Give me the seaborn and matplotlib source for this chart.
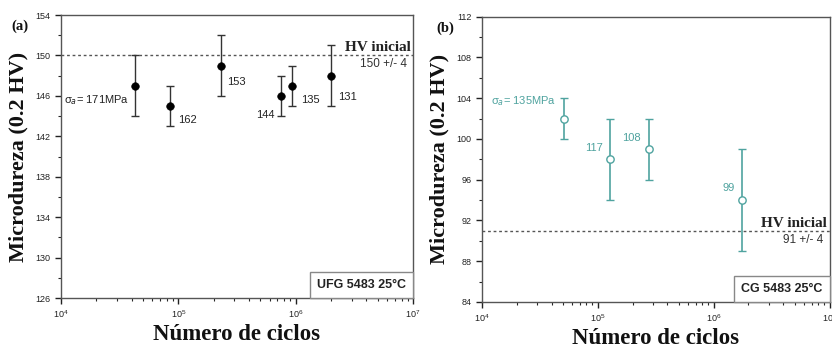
import numpy as np
import pandas as pd
import seaborn as sns
import matplotlib.pyplot as plt
from matplotlib.ticker import LogLocator, MultipleLocator, NullFormatter
from matplotlib.offsetbox import AnchoredText

# panel (a) UFG 5483
ufg_ciclos = [4.3e4, 8.5e4, 2.33e5, 7.45e5, 9.4e5, 1.99e6]
ufg_hv = [147, 145, 149, 146, 147, 148]
ufg_err = [3, 2, 3, 2, 2, 3]
ufg_labels = ['σ$_a$= 171MPa', '162', '153', '144', '135', '131']
ufg_hv0 = 150

# panel (b) CG 5483
cg_ciclos = [5.1e4, 1.29e5, 2.78e5, 1.77e6]
cg_hv = [102, 98, 99, 94]
cg_err = [2, 4, 3, 5]
cg_labels = ['σ$_a$= 135MPa', '117', '108', '99']
cg_hv0 = 91

sns.set_theme(style='white')
plt.rcParams['font.family'] = ['Liberation Sans', 'DejaVu Sans']

teal = '#4fa39f'
serif = ['Liberation Serif', 'DejaVu Serif']

fig = plt.figure(figsize=(8.32, 3.49), dpi=100)
ax1 = fig.add_axes([0.0733, 0.146, 0.423, 0.811])
ax2 = fig.add_axes([0.579, 0.135, 0.418, 0.817])

df1 = pd.DataFrame({'ciclos': ufg_ciclos, 'hv': ufg_hv, 'err': ufg_err})
df2 = pd.DataFrame({'ciclos': cg_ciclos, 'hv': cg_hv, 'err': cg_err})

ax1.errorbar(df1['ciclos'], df1['hv'], yerr=df1['err'], fmt='none',
             ecolor='#333333', elinewidth=1, capsize=3, capthick=1, zorder=2)
sns.scatterplot(data=df1, x='ciclos', y='hv', ax=ax1, color='black',
                s=30, edgecolor='black', zorder=3, legend=False)

ax2.errorbar(df2['ciclos'], df2['hv'], yerr=df2['err'], fmt='none',
             ecolor=teal, elinewidth=1.2, capsize=3, capthick=1, zorder=2)
sns.scatterplot(data=df2, x='ciclos', y='hv', ax=ax2, color='white',
                s=28, edgecolor=teal, linewidth=1, zorder=3, legend=False)

# label offsets in pixels
off1 = [(-6, -14, 'right'), (8, -14, 'left'), (6, -16, 'left'),
        (-6, -19, 'right'), (9, -14, 'left'), (7, -21, 'left')]
for x, y, lab, (dx, dy, ha) in zip(ufg_ciclos, ufg_hv, ufg_labels, off1):
    ax1.annotate(lab, (x, y), xytext=(dx, dy), textcoords='offset pixels',
                 ha=ha, va='center', fontsize=8, color='#222222')

off2 = [(-8, 17, 'right'), (-8, 11, 'right'), (-8, 11, 'right'), (-8, 12, 'right')]
for x, y, lab, (dx, dy, ha) in zip(cg_ciclos, cg_hv, cg_labels, off2):
    ax2.annotate(lab, (x, y), xytext=(dx, dy), textcoords='offset pixels',
                 ha=ha, va='center', fontsize=8, color=teal)

for ax, hv0, ylim, box, tag, tagx in [(ax1, ufg_hv0, (126, 154), 'UFG 5483 25°C', '(a)', -0.14),
                                       (ax2, cg_hv0, (84, 112), 'CG 5483 25°C', '(b)', -0.13)]:
    ax.axhline(hv0, color='#555555', linestyle=(0, (2, 2)), linewidth=1, zorder=1)
    ax.text(0.993, hv0 + 0.1, 'HV inicial', transform=ax.get_yaxis_transform(),
            ha='right', va='bottom', fontsize=11, fontweight='bold',
            family=serif, color='#222222')
    ax.text(0.982, hv0 - 0.3, f'{hv0} +/- 4', transform=ax.get_yaxis_transform(),
            ha='right', va='top', fontsize=8.5, color='#333333')
    ax.set_xscale('log')
    ax.set_xlim(1e4, 1e7)
    ax.set_ylim(*ylim)
    ax.set_yticks(np.arange(ylim[0], ylim[1] + 1, 4))
    ax.yaxis.set_minor_locator(MultipleLocator(2))
    ax.xaxis.set_major_locator(LogLocator(base=10, numticks=10))
    ax.xaxis.set_minor_locator(LogLocator(base=10, subs=np.arange(2, 10), numticks=20))
    ax.xaxis.set_minor_formatter(NullFormatter())
    ax.tick_params(axis='both', which='major', direction='out', length=4,
                   width=1, labelsize=6.5, colors='#222222', bottom=True, left=True)
    ax.tick_params(axis='both', which='minor', direction='out', length=2,
                   width=0.8, bottom=True, left=True)
    for s in ax.spines.values():
        s.set_color('#555555')
        s.set_linewidth(1)
    ax.set_xlabel('Número de ciclos', family=serif, fontsize=16.5,
                  fontweight='bold', color='#111111', labelpad=3)
    ax.set_ylabel('Microdureza (0.2 HV)', family=serif, fontsize=16,
                  fontweight='bold', color='#111111', labelpad=5)
    at = AnchoredText(box, loc='lower right', borderpad=0, frameon=True, pad=0.55,
                      prop=dict(fontsize=9, fontweight='bold', color='#222222'))
    at.patch.set_edgecolor('#888888')
    at.patch.set_linewidth(1)
    ax.add_artist(at)
    ax.text(tagx, 0.985, tag, transform=ax.transAxes, ha='left', va='top',
            fontsize=10.5, fontweight='bold', family=serif, color='#111111')

plt.savefig('out.png', dpi=100)
